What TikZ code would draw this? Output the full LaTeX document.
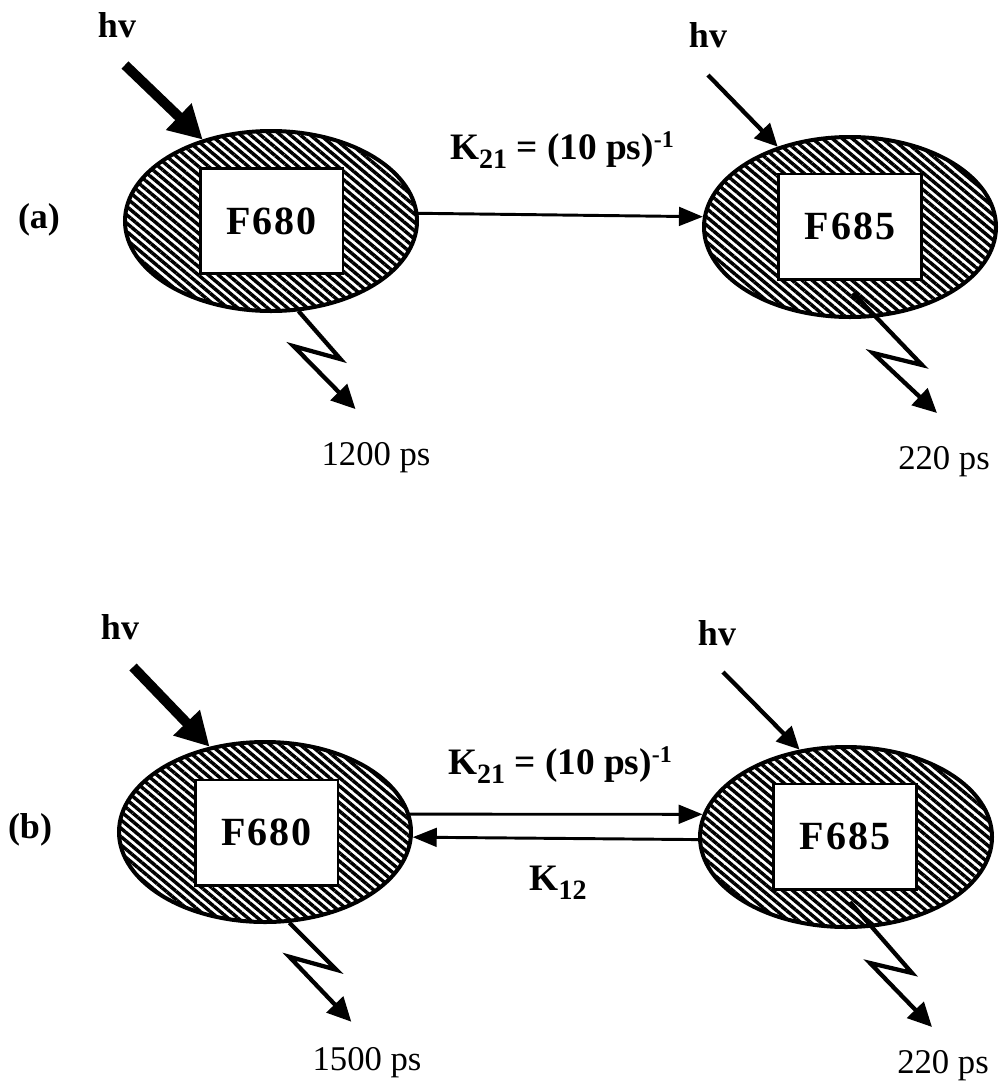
\documentclass[tikz,border=0pt]{standalone}
\usepackage{fontspec}
\setmainfont{Liberation Serif}
\newfontfamily\boxfont[LetterSpace=5]{Liberation Serif}
\usetikzlibrary{shapes.geometric,patterns.meta,arrows.meta}

\begin{document}
\begin{tikzpicture}[
    x=0.75pt,
    y=-0.75pt,
    line join=miter,
    cell/.style={
        ellipse,
        draw,
        line width=3pt,
        inner sep=0pt,
        minimum width=219pt,
        minimum height=135pt,
        pattern={Lines[angle=-40,distance=4.8pt,line width=2.6pt]}
    },
    core/.style={
        draw,
        fill=white,
        line width=2pt,
        inner sep=0pt,
        minimum width=107pt,
        minimum height=79pt,
        font=\boxfont\bfseries\fontsize{30}{32}\selectfont
    },
    strongphoton/.style={
        line width=7.5pt,
        -{Triangle[length=25pt,width=26pt]}
    },
    weakphoton/.style={
        line width=3.2pt,
        -{Triangle[length=17pt,width=16pt]}
    },
    transfer/.style={
        line width=2.2pt,
        -{Triangle[length=18pt,width=14pt]}
    },
    decay/.style={
        line width=3.2pt,
        -{Triangle[length=18pt,width=17pt]}
    },
    txt/.style={
        inner sep=0pt,
        font=\fontsize{26}{30}\selectfont
    },
    boldtxt/.style={
        inner sep=0pt,
        font=\bfseries\fontsize{27}{30}\selectfont
    },
    ratetxt/.style={
        inner sep=0pt,
        font=\bfseries\fontsize{28}{30}\selectfont
    }
]

\useasboundingbox (0,0) rectangle (999,1086);

% =========================================================
% (a): one-way transfer F680 -> F685
% =========================================================

\node[boldtxt] (tagA) at (39,220) {(a)};

\node[cell] (e1a) at (271,221) {};
\node[core] (f680a) at (271.5,221) {F680};

\node[cell] (e2a) at (850,227) {};
\node[core] (f685a) at (850,226.5) {F685};

% light
\node[boldtxt] (hv1a) at (117,25) {hv};
\coordinate (hv1atail) at (125,65);
\draw[strongphoton] (hv1atail) -- (e1a.130);

\node[boldtxt] (hv2a) at (708,35) {hv};
\coordinate (hv2atail) at (708,75);
\draw[weakphoton] (hv2atail) -- (e2a.132);

% transfer
\node[ratetxt] (k21a) at (562,150)
    {K\raisebox{-7pt}{\fontsize{21}{21}\selectfont 21} = (10 ps)\raisebox{9pt}{\fontsize{18}{18}\selectfont -1}};
\draw[transfer] (e1a.3) -- (e2a.176);

% decay
\draw[decay] (e1a.-73) -- ++(42,48) -- ++(-47,-13) -- ++(62,63);
\node[txt] (tau1a) at (376,458) {1200 ps};

\draw[decay] ([shift={(3,66)}]e2a.center) -- ++(69,72) -- ++(-49,-12) -- ++(64,60);
\node[txt] (tau2a) at (944,462) {220 ps};

% =========================================================
% (b): reversible transfer F680 <-> F685
% =========================================================

\node[boldtxt] (tagB) at (30,830) {(b)};

\node[cell] (e1b) at (265,832) {};
\node[core] (f680b) at (266.5,832.5) {F680};

\node[cell] (e2b) at (846,837) {};
\node[core] (f685b) at (845,836.5) {F685};

% light
\node[boldtxt] (hv1b) at (120,627) {hv};
\coordinate (hv1btail) at (133,667);
\draw[strongphoton] (hv1btail) -- (e1b.123);

\node[boldtxt] (hv2b) at (717,633) {hv};
\coordinate (hv2btail) at (723,672);
\draw[weakphoton] (hv2btail) -- (e2b.118);

% transfer, both ways
\node[ratetxt] (k21b) at (560,765)
    {K\raisebox{-7pt}{\fontsize{21}{21}\selectfont 21} = (10 ps)\raisebox{9pt}{\fontsize{18}{18}\selectfont -1}};
\draw[transfer] (e1b.7) -- (e2b.171);
\draw[transfer] (e2b.181) -- (e1b.-2);
\node[ratetxt] (k12b) at (558,883)
    {K\raisebox{-7pt}{\fontsize{21}{21}\selectfont 12}};

% decay
\draw[decay] (e1b.-75) -- ++(47,47) -- ++(-47,-13) -- ++(62,65);
\node[txt] (tau1b) at (367,1063) {1500 ps};

\draw[decay] ([shift={(4,65)}]e2b.center) -- ++(62,71) -- ++(-42,-10) -- ++(62,64);
\node[txt] (tau2b) at (943,1066) {220 ps};

\end{tikzpicture}
\end{document}
